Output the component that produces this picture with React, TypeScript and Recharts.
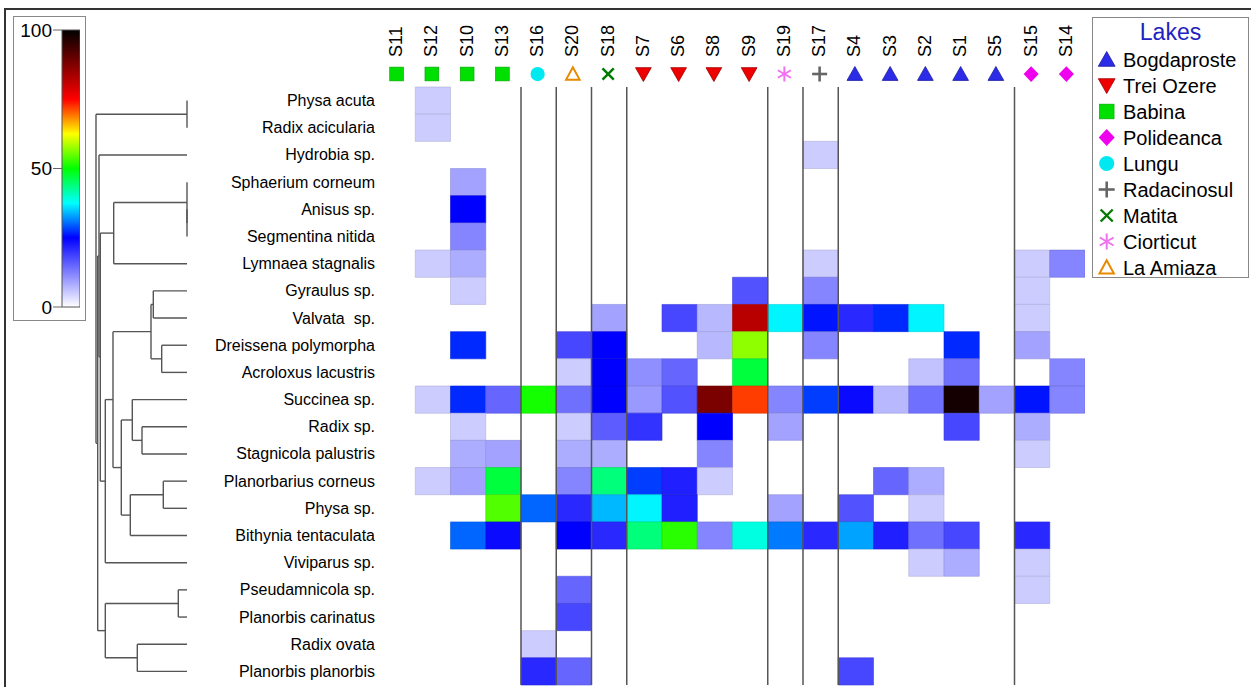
import React from 'react';
import { ScatterChart, Scatter, XAxis, YAxis, ReferenceArea, ReferenceLine } from 'recharts';

// sites in the order of the heatmap columns
const sites = ['S11', 'S12', 'S10', 'S13', 'S16', 'S20', 'S18', 'S7', 'S6', 'S8', 'S9', 'S19', 'S17', 'S4', 'S3', 'S2', 'S1', 'S5', 'S15', 'S14'];
const siteLakes = [
  'Babina', 'Babina', 'Babina', 'Babina', 'Lungu', 'La Amiaza', 'Matita', 'Trei Ozere', 'Trei Ozere', 'Trei Ozere',
  'Trei Ozere', 'Ciorticut', 'Radacinosul', 'Bogdaproste', 'Bogdaproste', 'Bogdaproste', 'Bogdaproste', 'Bogdaproste', 'Polideanca', 'Polideanca',
];

const species = [
  'Physa acuta', 'Radix acicularia', 'Hydrobia sp.', 'Sphaerium corneum', 'Anisus sp.', 'Segmentina nitida',
  'Lymnaea stagnalis', 'Gyraulus sp.', 'Valvata  sp.', 'Dreissena polymorpha', 'Acroloxus lacustris', 'Succinea sp.',
  'Radix sp.', 'Stagnicola palustris', 'Planorbarius corneus', 'Physa sp.', 'Bithynia tentaculata', 'Viviparus sp.',
  'Pseudamnicola sp.', 'Planorbis carinatus', 'Radix ovata', 'Planorbis planorbis',
];

// relative abundance (0-100), one row per species, columns follow `sites`; 0 = absent
const abundance: number[][] = [
  [0, 5, 0, 0, 0, 0, 0, 0, 0, 0, 0, 0, 0, 0, 0, 0, 0, 0, 0, 0],
  [0, 5, 0, 0, 0, 0, 0, 0, 0, 0, 0, 0, 0, 0, 0, 0, 0, 0, 0, 0],
  [0, 0, 0, 0, 0, 0, 0, 0, 0, 0, 0, 0, 5, 0, 0, 0, 0, 0, 0, 0],
  [0, 0, 9, 0, 0, 0, 0, 0, 0, 0, 0, 0, 0, 0, 0, 0, 0, 0, 0, 0],
  [0, 0, 25, 0, 0, 0, 0, 0, 0, 0, 0, 0, 0, 0, 0, 0, 0, 0, 0, 0],
  [0, 0, 12, 0, 0, 0, 0, 0, 0, 0, 0, 0, 0, 0, 0, 0, 0, 0, 0, 0],
  [0, 5, 8, 0, 0, 0, 0, 0, 0, 0, 0, 0, 5, 0, 0, 0, 0, 0, 5, 12],
  [0, 0, 5, 0, 0, 0, 0, 0, 0, 0, 17, 0, 12, 0, 0, 0, 0, 0, 5, 0],
  [0, 0, 0, 0, 0, 0, 9, 0, 18, 7, 82, 37, 26, 21, 27, 37, 0, 0, 5, 0],
  [0, 0, 27, 0, 0, 18, 25, 0, 0, 7, 57, 0, 12, 0, 0, 0, 27, 0, 9, 0],
  [0, 0, 0, 0, 0, 5, 25, 11, 15, 0, 47, 0, 0, 0, 0, 6, 14, 0, 0, 12],
  [0, 5, 27, 15, 51, 14, 25, 10, 17, 88, 72, 12, 28, 24, 7, 14, 98, 9, 26, 12],
  [0, 0, 5, 0, 0, 5, 16, 20, 0, 25, 0, 9, 0, 0, 0, 0, 18, 0, 8, 0],
  [0, 0, 8, 9, 0, 8, 8, 0, 0, 12, 0, 0, 0, 0, 0, 0, 0, 0, 5, 0],
  [0, 5, 9, 47, 0, 12, 44, 28, 22, 5, 0, 0, 0, 0, 15, 8, 0, 0, 0, 0],
  [0, 0, 0, 54, 30, 21, 34, 37, 22, 0, 0, 9, 0, 17, 0, 5, 0, 0, 0, 0],
  [0, 0, 30, 24, 0, 25, 21, 44, 52, 12, 39, 31, 21, 33, 22, 14, 18, 0, 21, 0],
  [0, 0, 0, 0, 0, 0, 0, 0, 0, 0, 0, 0, 0, 0, 0, 5, 8, 0, 5, 0],
  [0, 0, 0, 0, 0, 15, 0, 0, 0, 0, 0, 0, 0, 0, 0, 0, 0, 0, 5, 0],
  [0, 0, 0, 0, 0, 18, 0, 0, 0, 0, 0, 0, 0, 0, 0, 0, 0, 0, 0, 0],
  [0, 0, 0, 0, 5, 0, 0, 0, 0, 0, 0, 0, 0, 0, 0, 0, 0, 0, 0, 0],
  [0, 0, 0, 0, 21, 15, 0, 0, 0, 0, 0, 0, 0, 18, 0, 0, 0, 0, 0, 0],
];

// dendrogram merges: [left, right, height]; leaves are 0..21, merge k is node 22 + k
const merges: [number, number, number][] = [
  [0, 1, 0],
  [4, 5, 0],
  [3, 23, 0],
  [24, 6, 0.733],
  [7, 8, 0.337],
  [9, 10, 0.253],
  [26, 27, 0.36],
  [12, 13, 0.45],
  [11, 29, 0.547],
  [14, 15, 0.237],
  [31, 16, 0.567],
  [30, 32, 0.657],
  [28, 33, 0.74],
  [34, 17, 0.817],
  [25, 35, 0.867],
  [2, 36, 0.88],
  [18, 19, 0.087],
  [20, 21, 0.497],
  [38, 39, 0.817],
  [37, 40, 0.893],
  [22, 41, 0.91],
];

const lakes = ['Bogdaproste', 'Trei Ozere', 'Babina', 'Polideanca', 'Lungu', 'Radacinosul', 'Matita', 'Ciorticut', 'La Amiaza'];
const lakeShapes = ['triUp', 'triDown', 'square', 'diamond', 'circle', 'plus', 'cross', 'star', 'triOpen'];
const lakeColors = ['#2b2be8', '#ee0000', '#00e000', '#ee00ee', '#00e8f0', '#666666', '#007a00', '#f070f0', '#e88a00'];

const scaleTicks = [0, 50, 100];
const colorStops: [number, string][] = [
  [0, '#ffffff'], [25, '#0000ff'], [37.5, '#00ffff'], [50, '#00ff00'],
  [62.5, '#ffff00'], [75, '#ff0000'], [87.5, '#800000'], [100, '#000000'],
];

const FONT = '"Liberation Sans", Arial, sans-serif';

const hexToRgb = (h: string) => [1, 3, 5].map(i => parseInt(h.slice(i, i + 2), 16));

const valueColor = (v: number, k = 1) => {
  let i = 0;
  while (i < colorStops.length - 2 && v > colorStops[i + 1][0]) i++;
  const [v0, c0] = colorStops[i];
  const [v1, c1] = colorStops[i + 1];
  const t = Math.max(0, Math.min(1, (v - v0) / (v1 - v0)));
  const a = hexToRgb(c0);
  const b = hexToRgb(c1);
  const rgb = a.map((x, j) => Math.round((x + (b[j] - x) * t) * k));
  return `rgb(${rgb.join(',')})`;
};

const cells = abundance.flatMap((row, r) =>
  row.map((v, c) => ({ x: c + 0.5, y: r + 0.5, row: r, col: c, v })).filter(d => d.v > 0)
);

const siteTicks = sites.map((_, i) => i + 0.5);
const speciesTicks = species.map((_, i) => i + 0.5);
const lakeBreaks = siteLakes.map((l, i) => (i > 0 && l !== siteLakes[i - 1] ? i : -1)).filter(i => i > 0);

// dendrogram node positions and line segments
const nodePos: { h: number; y: number }[] = species.map((_, i) => ({ h: 0, y: i + 0.5 }));
const dendroSegments: { x1: number; y1: number; x2: number; y2: number }[] = [];
merges.forEach(([a, b, h]) => {
  const pa = nodePos[a];
  const pb = nodePos[b];
  if (h > pa.h) dendroSegments.push({ x1: pa.h, y1: pa.y, x2: h, y2: pa.y });
  if (h > pb.h) dendroSegments.push({ x1: pb.h, y1: pb.y, x2: h, y2: pb.y });
  dendroSegments.push({ x1: h, y1: pa.y, x2: h, y2: pb.y });
  nodePos.push({ h, y: (pa.y + pb.y) / 2 });
});

const LakeMarker = ({ lake, cx, cy, size }: { lake: string; cx: number; cy: number; size: number }) => {
  const i = lakes.indexOf(lake);
  const shape = lakeShapes[i];
  const color = lakeColors[i];
  const s = size / 2;
  switch (shape) {
    case 'triUp':
      return <polygon points={`${cx},${cy - s} ${cx - s * 1.05},${cy + s * 0.85} ${cx + s * 1.05},${cy + s * 0.85}`} fill={color} stroke="#1a1aa0" strokeWidth={0.8} />;
    case 'triDown':
      return <polygon points={`${cx},${cy + s} ${cx - s * 1.05},${cy - s * 0.85} ${cx + s * 1.05},${cy - s * 0.85}`} fill={color} stroke="#a00000" strokeWidth={0.8} />;
    case 'square':
      return <rect x={cx - s * 0.92} y={cy - s * 0.92} width={s * 1.84} height={s * 1.84} fill={color} stroke="#00a000" strokeWidth={0.6} />;
    case 'diamond':
      return <polygon points={`${cx},${cy - s * 1.05} ${cx + s},${cy} ${cx},${cy + s * 1.05} ${cx - s},${cy}`} fill={color} />;
    case 'circle':
      return <circle cx={cx} cy={cy} r={s * 0.95} fill={color} />;
    case 'plus':
      return (
        <g stroke={color} strokeWidth={2.6}>
          <line x1={cx - s} y1={cy} x2={cx + s} y2={cy} />
          <line x1={cx} y1={cy - s} x2={cx} y2={cy + s} />
        </g>
      );
    case 'cross':
      return (
        <g stroke={color} strokeWidth={2.4}>
          <line x1={cx - s * 0.75} y1={cy - s * 0.75} x2={cx + s * 0.75} y2={cy + s * 0.75} />
          <line x1={cx - s * 0.75} y1={cy + s * 0.75} x2={cx + s * 0.75} y2={cy - s * 0.75} />
        </g>
      );
    case 'star':
      return (
        <g stroke={color} strokeWidth={2}>
          <line x1={cx} y1={cy - s} x2={cx} y2={cy + s} />
          <line x1={cx - s * 0.87} y1={cy - s * 0.5} x2={cx + s * 0.87} y2={cy + s * 0.5} />
          <line x1={cx - s * 0.87} y1={cy + s * 0.5} x2={cx + s * 0.87} y2={cy - s * 0.5} />
        </g>
      );
    default:
      return <polygon points={`${cx},${cy - s * 0.9} ${cx - s * 0.9},${cy + s * 0.75} ${cx + s * 0.9},${cy + s * 0.75}`} fill="none" stroke={color} strokeWidth={2} />;
  }
};

const SiteTick = (props: any) => {
  const { x, y, payload } = props;
  const i = Math.floor(payload.value);
  const tx = x + 4.5;
  const ty = y - 30;
  return (
    <g>
      <text x={tx} y={ty} transform={`rotate(-90, ${tx}, ${ty})`} fontSize={18} fill="#000" fontFamily={FONT}>
        {sites[i]}
      </text>
      <LakeMarker lake={siteLakes[i]} cx={x - 1} cy={y - 13} size={15} />
    </g>
  );
};

const SpeciesTick = (props: any) => {
  const { x, y, payload } = props;
  return (
    <text x={x - 5} y={y} textAnchor="end" dominantBaseline="central" fontSize={16} fill="#000" fontFamily={FONT} style={{ whiteSpace: 'pre' }}>
      {species[Math.floor(payload.value)]}
    </text>
  );
};

const noShape = () => <g />;

export default function App() {
  return (
    <div style={{ position: 'absolute', left: 0, top: 0, width: 1251, height: 687, overflow: 'hidden', background: '#fff', fontFamily: FONT }}>
      {/* figure frame */}
      <div style={{ position: 'absolute', left: 4, top: 8, width: 1260, height: 700, border: '2.5px solid #333' }} />

      {/* colour scale */}
      <div style={{ position: 'absolute', left: 13, top: 16, width: 71, height: 303, border: '1px solid #888' }} />
      <div style={{ position: 'absolute', left: 0, top: 0 }}>
        <ScatterChart width={80} height={320} margin={{ top: 30, right: 0, bottom: 13, left: 0 }}>
          <defs>
            <linearGradient id="scaleGrad" x1="0" y1="1" x2="0" y2="0">
              {colorStops.map(([v, c]) => (
                <stop key={v} offset={`${v}%`} stopColor={c} />
              ))}
            </linearGradient>
          </defs>
          <XAxis type="number" dataKey="x" domain={[0, 1]} hide />
          <YAxis
            type="number"
            dataKey="y"
            domain={[0, 100]}
            ticks={scaleTicks}
            width={62}
            axisLine={false}
            tickSize={9}
            tickMargin={1}
            tickLine={{ stroke: '#666' }}
            tick={{ fontSize: 19, fill: '#000', fontFamily: FONT }}
            interval={0}
          />
          <ReferenceArea x1={0} x2={1} y1={0} y2={100} fill="url(#scaleGrad)" fillOpacity={1} stroke="#555" strokeWidth={1} ifOverflow="visible" />
          <Scatter data={[{ x: 0.5, y: 50 }]} shape={noShape} isAnimationActive={false} />
        </ScatterChart>
      </div>

      {/* dendrogram */}
      <div style={{ position: 'absolute', left: 93, top: 87 }}>
        <ScatterChart width={96} height={598} margin={{ top: 0, right: 0, bottom: 0, left: 0 }}>
          <XAxis type="number" dataKey="h" domain={[-0.02, 0.94]} reversed hide />
          <YAxis type="number" dataKey="y" domain={[0, species.length]} reversed hide />
          {dendroSegments.map((s, i) => (
            <ReferenceLine
              key={i}
              segment={[{ x: s.x1, y: s.y1 }, { x: s.x2, y: s.y2 }]}
              stroke="#555"
              strokeWidth={1.4}
              ifOverflow="visible"
            />
          ))}
          <Scatter data={nodePos} shape={noShape} isAnimationActive={false} />
        </ScatterChart>
      </div>

      {/* heatmap */}
      <div style={{ position: 'absolute', left: 200, top: 10 }}>
        <ScatterChart width={885} height={677} margin={{ top: 0, right: 0, bottom: 2, left: 0 }}>
          <XAxis
            type="number"
            dataKey="x"
            orientation="top"
            domain={[0, sites.length]}
            ticks={siteTicks}
            interval={0}
            height={77}
            axisLine={false}
            tickLine={false}
            tickSize={0}
            tickMargin={0}
            tick={<SiteTick />}
          />
          <YAxis
            type="number"
            dataKey="y"
            domain={[0, species.length]}
            reversed
            ticks={speciesTicks}
            interval={0}
            width={180}
            axisLine={false}
            tickLine={false}
            tickSize={0}
            tickMargin={0}
            tick={<SpeciesTick />}
          />
          {cells.map(c => (
            <ReferenceArea
              key={`${c.row}-${c.col}`}
              x1={c.col}
              x2={c.col + 1}
              y1={c.row}
              y2={c.row + 1}
              fill={valueColor(c.v)}
              fillOpacity={1}
              stroke={valueColor(c.v, 0.86)}
              strokeWidth={1}
              strokeOpacity={0.6}
              ifOverflow="visible"
            />
          ))}
          {lakeBreaks.map(b => (
            <ReferenceLine key={b} x={b} stroke="#555" strokeWidth={1.5} />
          ))}
          <Scatter data={cells} shape={noShape} isAnimationActive={false} />
        </ScatterChart>
      </div>

      {/* legend */}
      <svg style={{ position: 'absolute', left: 1092, top: 17, overflow: 'visible' }} width={157} height={266}>
        <rect x={0.5} y={0.5} width={156} height={260} fill="#fff" stroke="#888" />
        <text x={78.5} y={15} textAnchor="middle" dominantBaseline="central" fontSize={23} fill="#2222c0" fontFamily={FONT}>
          Lakes
        </text>
        {lakes.map((l, i) => (
          <g key={l}>
            <LakeMarker lake={l} cx={14.7} cy={42.5 + i * 26} size={16} />
            <text x={31} y={42.5 + i * 26} dominantBaseline="central" fontSize={20} fill="#000" fontFamily={FONT}>
              {l}
            </text>
          </g>
        ))}
      </svg>
    </div>
  );
}
